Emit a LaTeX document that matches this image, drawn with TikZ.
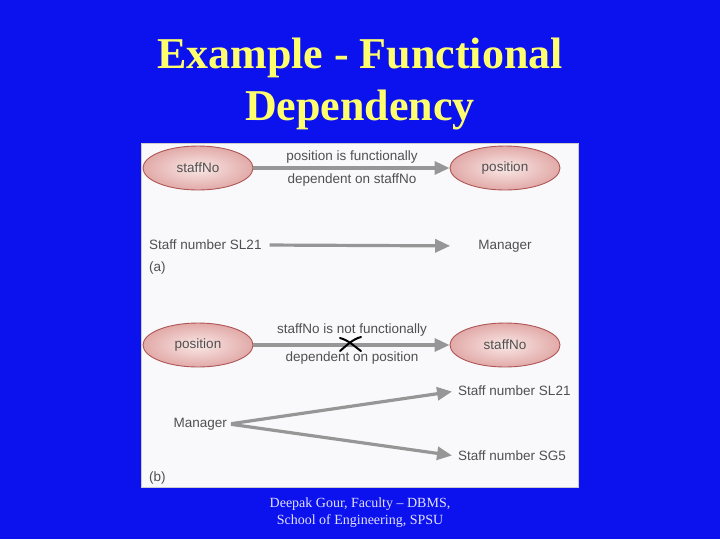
\documentclass[tikz,border=0pt]{standalone}
\usepackage{fontspec}
\setmainfont{Liberation Serif}
\setsansfont{Liberation Sans}
\usetikzlibrary{shapes.geometric, arrows.meta}

\definecolor{slideblue}{RGB}{12,18,238}
\definecolor{titleyellow}{RGB}{255,255,110}
\definecolor{panelwhite}{RGB}{249,249,251}
\definecolor{attrborder}{RGB}{175,85,85}
\definecolor{attrin}{RGB}{250,232,230}
\definecolor{attrout}{RGB}{225,170,168}
\definecolor{fdgray}{RGB}{150,150,150}
\definecolor{labelgray}{RGB}{80,80,80}

\tikzset{
	attr/.style={ellipse, draw=attrborder, line width=0.9pt,
		inner color=attrin, outer color=attrout,
		minimum width=110pt, minimum height=44pt,
		font=\sffamily\fontsize{13.5}{15}\selectfont, text=labelgray},
	plain/.style={font=\sffamily\fontsize{13.5}{15}\selectfont, text=labelgray, inner sep=2pt},
	fd/.style={draw=fdgray, line width=3.2pt,
		-{Triangle[length=15pt, width=13pt]}}
}

\begin{document}
\begin{tikzpicture}[x=1pt, y=-1pt]
	% slide background
	\fill[slideblue] (0, 0) rectangle (720, 539);
	\useasboundingbox (0, 0) rectangle (720, 539);

	% title
	\node[text=titleyellow, font=\bfseries\fontsize{44}{52}\selectfont] (title1) at (360, 58) {Example - Functional};
	\node[text=titleyellow, font=\bfseries\fontsize{44}{52}\selectfont] (title2) at (360, 110) {Dependency};

	% figure panel
	\fill[panelwhite, draw=gray!40] (141, 143) rectangle (578, 487);

	% (a) staffNo -> position
	\node[attr] (staffA) at (198, 168) {staffNo};
	\node[attr] (posA) at (505, 168) {position};
	\draw[fd] (staffA) -- (posA);
	\node[plain] (lblA1) at (352, 157) {position is functionally};
	\node[plain] (lblA2) at (352, 180) {dependent on staffNo};

	\node[plain, anchor=west] (slA) at (147, 245) {Staff number SL21};
	\node[plain] (mgrA) at (505, 246) {Manager};
	\draw[fd, shorten <=6pt, shorten >=26pt] (slA.east) -- (mgrA.west);
	\node[plain, anchor=west] (tagA) at (147, 268) {(a)};

	% (b) position -/-> staffNo
	\node[attr] (posB) at (198, 345) {position};
	\node[attr] (staffB) at (505, 345) {staffNo};
	\draw[fd] (posB) -- (staffB);
	\node[plain] (lblB1) at (352, 330) {staffNo is not functionally};
	\node[plain] (lblB2) at (352, 358) {dependent on position};

	% cross over the arrow
	\draw[black, line width=2pt, line cap=round]
		(340, 338) .. controls (348, 340) and (354, 346) .. (361, 351);
	\draw[black, line width=2pt, line cap=round]
		(340, 351) .. controls (347, 345) and (353, 339) .. (361, 337);

	\node[plain, anchor=east] (mgrB) at (229, 424) {Manager};
	\node[plain, anchor=west] (slB) at (456, 391) {Staff number SL21};
	\node[plain, anchor=west] (sgB) at (456, 456) {Staff number SG5};
	\draw[fd, shorten <=2pt, shorten >=4pt] (mgrB.east) -- (slB.west);
	\draw[fd, shorten <=2pt, shorten >=4pt] (mgrB.east) -- (sgB.west);
	\node[plain, anchor=west] (tagB) at (147, 478) {(b)};

	% footer
	\node[text=white!88!blue, font=\fontsize{14}{17}\selectfont, align=center] (footer) at (360, 513)
		{Deepak Gour, Faculty -- DBMS,\\School of Engineering, SPSU};
\end{tikzpicture}
\end{document}
